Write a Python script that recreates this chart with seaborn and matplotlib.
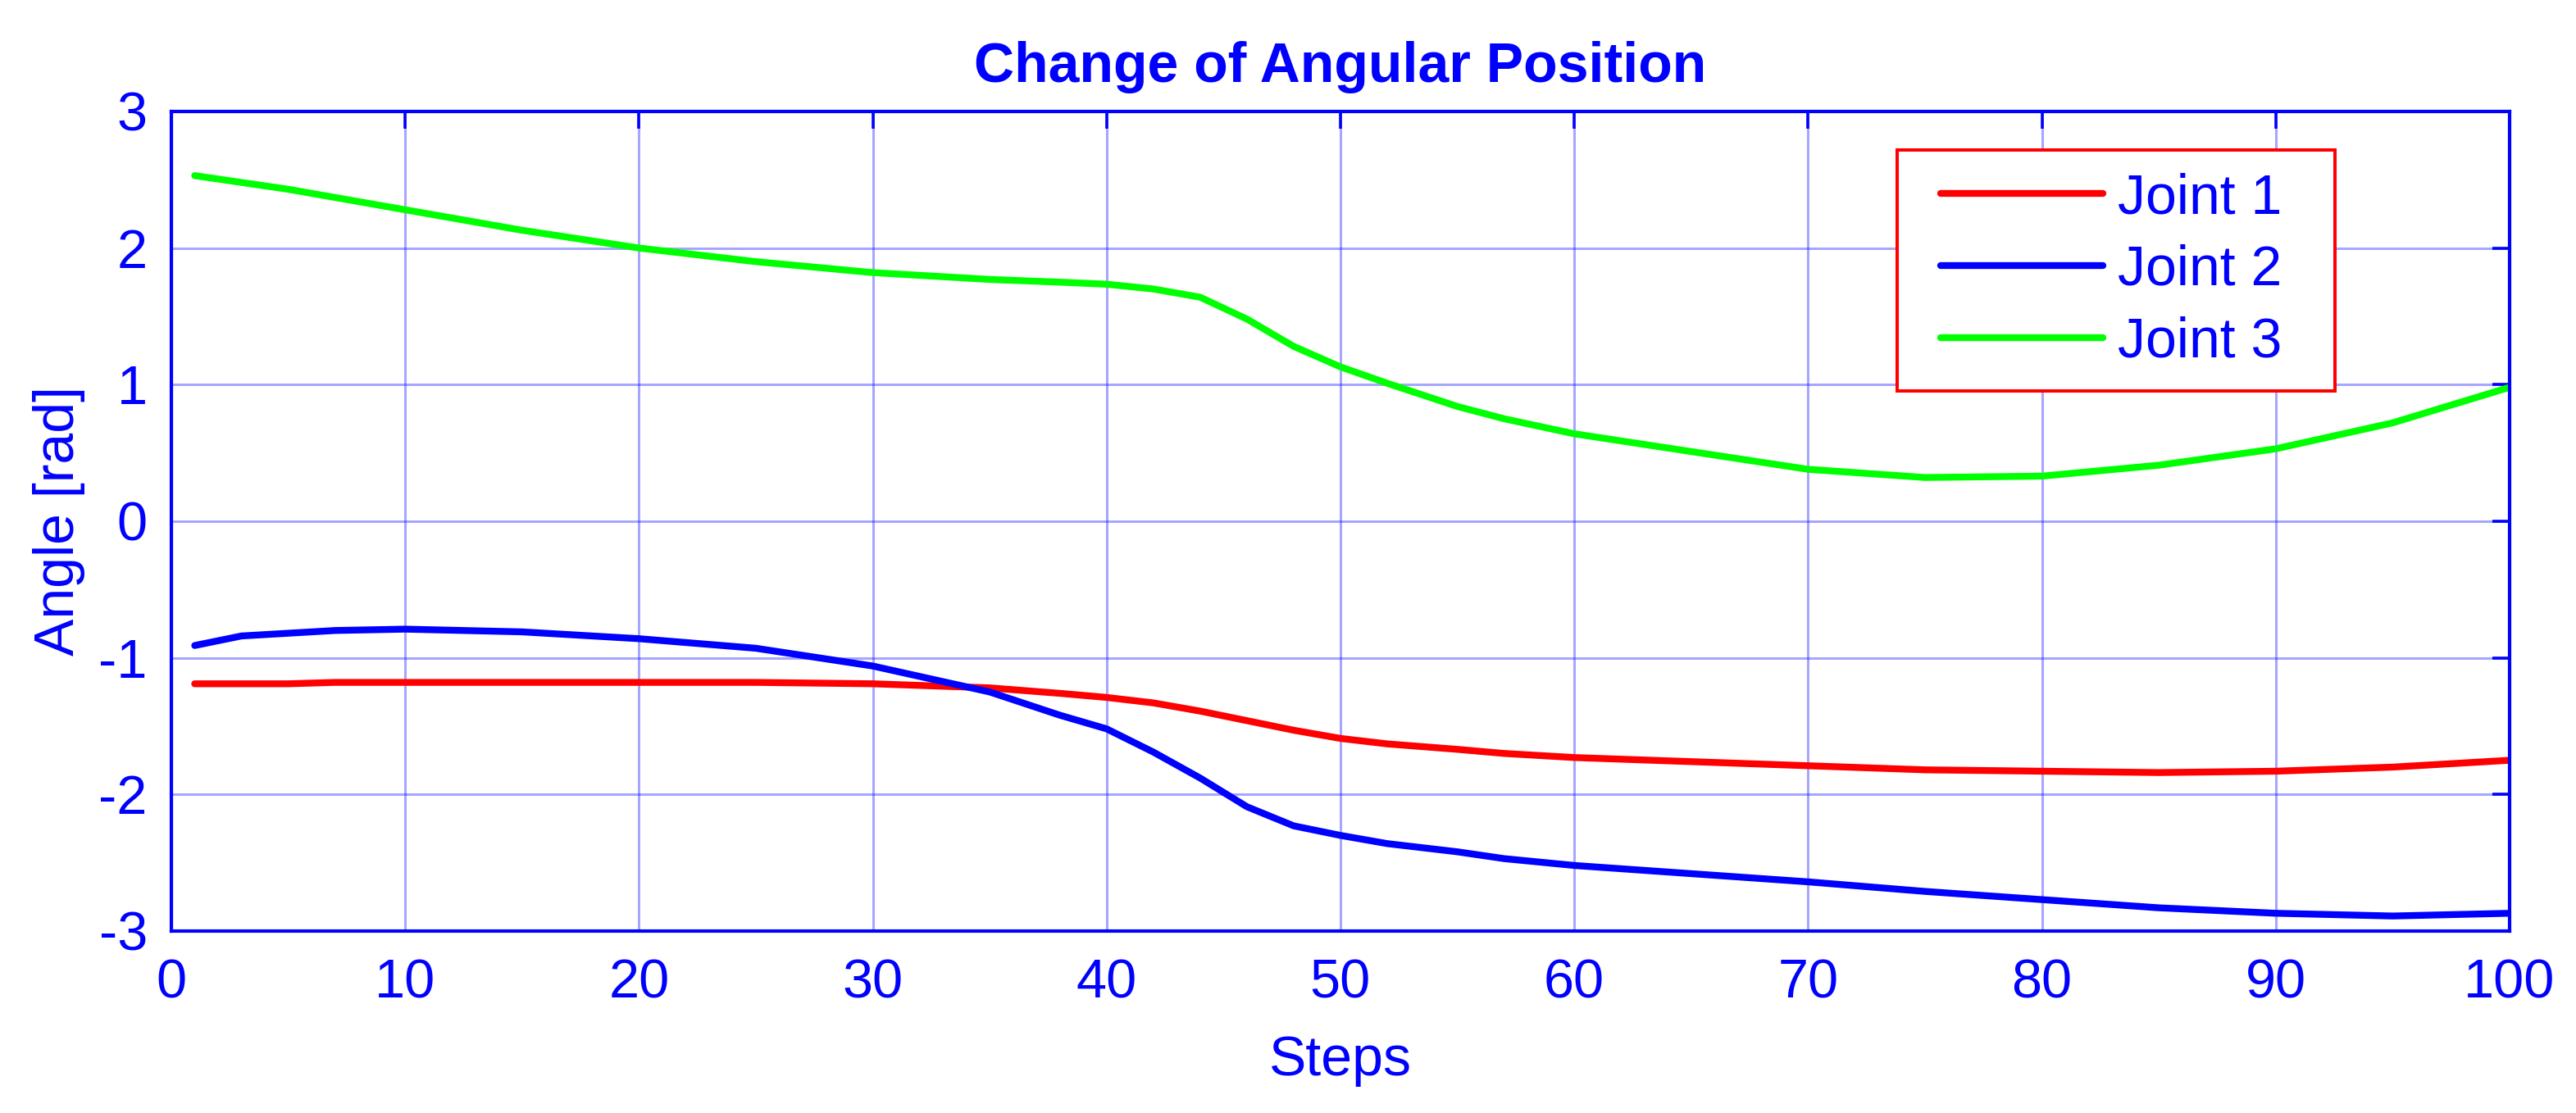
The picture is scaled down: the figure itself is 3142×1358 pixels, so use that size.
import pandas as pd
import matplotlib
matplotlib.use("Agg")
import matplotlib.pyplot as plt
from matplotlib.lines import Line2D
from matplotlib.legend_handler import HandlerLine2D
import seaborn as sns

# values
steps = [1, 3, 5, 7, 10, 15, 20, 25, 30, 35, 38, 40, 42, 44, 46, 48, 50,
         52, 55, 57, 60, 65, 70, 75, 80, 85, 90, 95, 100]
joint1 = [-1.19, -1.19, -1.19, -1.18, -1.18, -1.18, -1.18, -1.18, -1.19, -1.22, -1.26, -1.29,
          -1.33, -1.39, -1.46, -1.53, -1.59, -1.63, -1.67, -1.70, -1.73, -1.76, -1.79, -1.82,
          -1.83, -1.84, -1.83, -1.80, -1.75]
joint2 = [-0.91, -0.84, -0.82, -0.80, -0.79, -0.81, -0.86, -0.93, -1.06, -1.25, -1.42, -1.52,
          -1.69, -1.88, -2.09, -2.23, -2.30, -2.36, -2.42, -2.47, -2.52, -2.58, -2.64, -2.71,
          -2.77, -2.83, -2.87, -2.89, -2.87]
joint3 = [2.53, 2.48, 2.43, 2.37, 2.28, 2.13, 2.00, 1.90, 1.82, 1.77, 1.75, 1.735,
          1.70, 1.64, 1.48, 1.28, 1.13, 1.01, 0.84, 0.75, 0.64, 0.51, 0.38, 0.32,
          0.33, 0.41, 0.53, 0.72, 0.98]
labels = ["Joint 1", "Joint 2", "Joint 3"]
colors = ["#ff0000", "#0000ff", "#00ff00"]

xticks = list(range(0, 101, 10))
yticks = list(range(-3, 4))

BLUE = "#0000ff"
FS = 24.5


def build_frame():
    parts = []
    for name, vals in zip(labels, [joint1, joint2, joint3]):
        parts.append(pd.DataFrame({"Steps": steps, "Angle": vals, "Joint": name}))
    return pd.concat(parts, ignore_index=True)


def main():
    sns.set_style("white")
    plt.rcParams["font.family"] = ["Liberation Sans", "DejaVu Sans"]

    df = build_frame()

    fig = plt.figure(figsize=(15.71, 6.79), dpi=200)
    ax = fig.add_axes([0.0665, 0.1635, 0.9077, 0.7364])

    sns.lineplot(data=df, x="Steps", y="Angle", hue="Joint",
                 palette=dict(zip(labels, colors)), linewidth=3.0, ax=ax)

    ax.set_xlim(0, 100)
    ax.set_ylim(-3, 3)
    ax.set_xticks(xticks)
    ax.set_yticks(yticks)
    ax.set_yticklabels([str(t) for t in yticks])

    ax.grid(True, color=BLUE, alpha=0.35, linewidth=1.1)
    ax.set_axisbelow(True)
    for sp in ax.spines.values():
        sp.set_color(BLUE)
        sp.set_linewidth(1.5)
        sp.set_visible(True)

    ax.tick_params(axis="both", direction="in", length=7.5, width=1.3,
                   colors=BLUE, labelsize=24, top=True, right=True)
    ax.tick_params(axis="x", pad=12)
    ax.tick_params(axis="y", pad=10.5)

    ax.set_xlabel("Steps", color=BLUE, fontsize=FS, labelpad=11)
    ax.set_ylabel("Angle [rad]", color=BLUE, fontsize=FS, labelpad=6)
    ax.set_title("Change of Angular Position", color=BLUE, fontsize=FS,
                 fontweight="bold", pad=13)

    handles, _ = ax.get_legend_handles_labels()
    leg = ax.legend(handles, [l + "  " for l in labels],
                    loc="upper left", bbox_to_anchor=(0.738, 0.953),
                    fontsize=FS, frameon=True, fancybox=False,
                    handlelength=3.29, handletextpad=0.26, labelspacing=0.35,
                    borderpad=0.4, borderaxespad=0,
                    handler_map={Line2D: HandlerLine2D(xpad=0.39)})
    leg.get_frame().set_edgecolor("#ff0000")
    leg.get_frame().set_linewidth(1.45)
    leg.get_frame().set_facecolor("white")
    leg.get_frame().set_alpha(1)
    for txt in leg.get_texts():
        txt.set_color(BLUE)
    for line in leg.get_lines():
        line.set_linewidth(3.0)

    fig.savefig("out.png", dpi=200, facecolor="white")


if __name__ == "__main__":
    main()
